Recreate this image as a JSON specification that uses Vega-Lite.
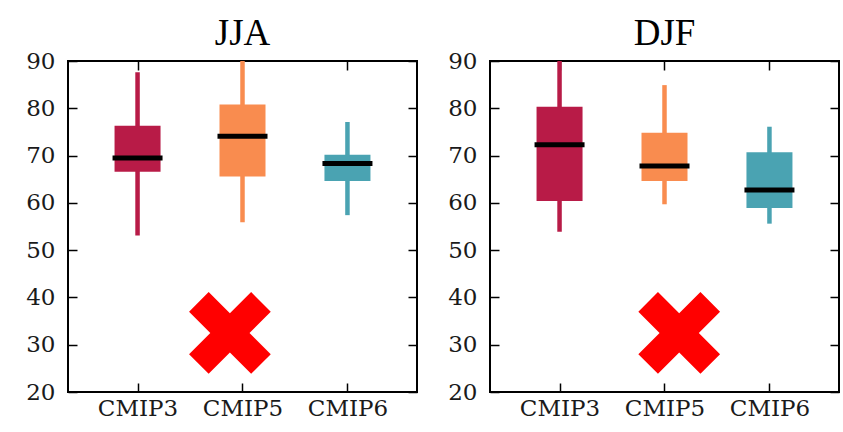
{
  "$schema": "https://vega.github.io/schema/vega-lite/v6.json",
  "background": "white",
  "padding": {"left": 24, "top": 14, "right": 5, "bottom": 5},
  "datasets": {
    "boxes": [
      {"season": "JJA", "model": "CMIP3", "x": 1, "low": 53.1, "q1": 66.6, "median": 69.5, "q3": 76.3, "high": 87.6},
      {"season": "JJA", "model": "CMIP5", "x": 2, "low": 55.9, "q1": 65.6, "median": 74.1, "q3": 80.8, "high": 91.5},
      {"season": "JJA", "model": "CMIP6", "x": 3, "low": 57.4, "q1": 64.6, "median": 68.3, "q3": 70.2, "high": 77.1},
      {"season": "DJF", "model": "CMIP3", "x": 1, "low": 53.9, "q1": 60.4, "median": 72.3, "q3": 80.3, "high": 91.5},
      {"season": "DJF", "model": "CMIP5", "x": 2, "low": 59.7, "q1": 64.6, "median": 67.8, "q3": 74.8, "high": 84.9},
      {"season": "DJF", "model": "CMIP6", "x": 3, "low": 55.6, "q1": 58.9, "median": 62.7, "q3": 70.7, "high": 76.1}
    ],
    "crosses": [
      {"season": "JJA", "x": 1.88, "value": 32.5},
      {"season": "DJF", "x": 2.14, "value": 32.5}
    ]
  },
  "hconcat": [
    {
      "width": 349,
      "height": 331,
      "title": {"text": "JJA"},
      "layer": [
        {
          "data": {"name": "boxes"},
          "transform": [{"filter": "datum.season === 'JJA'"}],
          "mark": {"type": "rule", "strokeWidth": 4.5, "clip": true},
          "encoding": {
            "x": {"field": "x", "type": "quantitative", "scale": {"domain": [0.385, 3.615], "nice": false, "zero": false},
                  "axis": {"orient": "bottom", "values": [1, 2, 3], "labelPadding": 14, "labelFlush": false,
                           "labelFont": "DejaVu Serif", "labelFontSize": 23,
                           "labelExpr": "datum.value == 1 ? 'CMIP3' : datum.value == 2 ? 'CMIP5' : 'CMIP6'"}},
            "y": {"field": "low", "type": "quantitative", "scale": {"domain": [20, 90], "nice": false, "zero": false},
                  "axis": {"orient": "left", "values": [20, 30, 40, 50, 60, 70, 80, 90], "labelPadding": 22,
                           "labelFont": "DejaVu Serif", "labelFontSize": 23}},
            "y2": {"field": "high"},
            "color": {"field": "model", "type": "nominal",
                      "scale": {"domain": ["CMIP3", "CMIP5", "CMIP6"], "range": ["#b81b47", "#f98c4f", "#4aa3b2"]},
                      "legend": null}
          }
        },
        {
          "data": {"name": "boxes"},
          "transform": [{"filter": "datum.season === 'JJA'"}],
          "mark": {"type": "bar", "size": 46, "opacity": 1},
          "encoding": {
            "x": {"field": "x", "type": "quantitative",
                  "axis": {"orient": "top", "values": [1, 2, 3], "labels": false}},
            "y": {"field": "q1", "type": "quantitative",
                  "axis": {"orient": "right", "values": [20, 30, 40, 50, 60, 70, 80, 90], "labels": false}},
            "y2": {"field": "q3"},
            "color": {"field": "model", "type": "nominal", "legend": null}
          }
        },
        {
          "data": {"name": "boxes"},
          "transform": [{"filter": "datum.season === 'JJA'"}],
          "mark": {"type": "tick", "orient": "horizontal", "size": 50, "thickness": 5, "color": "black", "opacity": 1},
          "encoding": {
            "x": {"field": "x", "type": "quantitative", "axis": null},
            "y": {"field": "median", "type": "quantitative", "axis": null}
          }
        },
        {
          "data": {"name": "crosses"},
          "transform": [{"filter": "datum.season === 'JJA'"}],
          "mark": {"type": "point", "shape": "M-1,-0.52L-0.52,-1L0,-0.48L0.52,-1L1,-0.52L0.48,0L1,0.52L0.52,1L0,0.48L-0.52,1L-1,0.52L-0.48,0Z",
                   "size": 6675, "filled": true, "color": "#ff0000", "opacity": 1, "strokeWidth": 0},
          "encoding": {
            "x": {"field": "x", "type": "quantitative", "axis": null},
            "y": {"field": "value", "type": "quantitative", "axis": null}
          }
        }
      ],
      "resolve": {"axis": {"x": "independent", "y": "independent"}}
    },
    {
      "width": 349,
      "height": 331,
      "title": {"text": "DJF"},
      "layer": [
        {
          "data": {"name": "boxes"},
          "transform": [{"filter": "datum.season === 'DJF'"}],
          "mark": {"type": "rule", "strokeWidth": 4.5, "clip": true},
          "encoding": {
            "x": {"field": "x", "type": "quantitative", "scale": {"domain": [0.385, 3.615], "nice": false, "zero": false},
                  "axis": {"orient": "bottom", "values": [1, 2, 3], "labelPadding": 14, "labelFlush": false,
                           "labelFont": "DejaVu Serif", "labelFontSize": 23,
                           "labelExpr": "datum.value == 1 ? 'CMIP3' : datum.value == 2 ? 'CMIP5' : 'CMIP6'"}},
            "y": {"field": "low", "type": "quantitative", "scale": {"domain": [20, 90], "nice": false, "zero": false},
                  "axis": {"orient": "left", "values": [20, 30, 40, 50, 60, 70, 80, 90], "labelPadding": 22,
                           "labelFont": "DejaVu Serif", "labelFontSize": 23}},
            "y2": {"field": "high"},
            "color": {"field": "model", "type": "nominal",
                      "scale": {"domain": ["CMIP3", "CMIP5", "CMIP6"], "range": ["#b81b47", "#f98c4f", "#4aa3b2"]},
                      "legend": null}
          }
        },
        {
          "data": {"name": "boxes"},
          "transform": [{"filter": "datum.season === 'DJF'"}],
          "mark": {"type": "bar", "size": 46, "opacity": 1},
          "encoding": {
            "x": {"field": "x", "type": "quantitative",
                  "axis": {"orient": "top", "values": [1, 2, 3], "labels": false}},
            "y": {"field": "q1", "type": "quantitative",
                  "axis": {"orient": "right", "values": [20, 30, 40, 50, 60, 70, 80, 90], "labels": false}},
            "y2": {"field": "q3"},
            "color": {"field": "model", "type": "nominal", "legend": null}
          }
        },
        {
          "data": {"name": "boxes"},
          "transform": [{"filter": "datum.season === 'DJF'"}],
          "mark": {"type": "tick", "orient": "horizontal", "size": 50, "thickness": 5, "color": "black", "opacity": 1},
          "encoding": {
            "x": {"field": "x", "type": "quantitative", "axis": null},
            "y": {"field": "median", "type": "quantitative", "axis": null}
          }
        },
        {
          "data": {"name": "crosses"},
          "transform": [{"filter": "datum.season === 'DJF'"}],
          "mark": {"type": "point", "shape": "M-1,-0.52L-0.52,-1L0,-0.48L0.52,-1L1,-0.52L0.48,0L1,0.52L0.52,1L0,0.48L-0.52,1L-1,0.52L-0.48,0Z",
                   "size": 6675, "filled": true, "color": "#ff0000", "opacity": 1, "strokeWidth": 0},
          "encoding": {
            "x": {"field": "x", "type": "quantitative", "axis": null},
            "y": {"field": "value", "type": "quantitative", "axis": null}
          }
        }
      ],
      "resolve": {"axis": {"x": "independent", "y": "independent"}}
    }
  ],
  "spacing": 27,
  "config": {
    "view": {"stroke": "black", "strokeWidth": 2},
    "axis": {
      "domain": false,
      "grid": false,
      "title": null,
      "tickSize": -9,
      "tickColor": "black",
      "tickWidth": 1.5,
      "labelFont": "DejaVu Serif",
      "labelFontSize": 23,
      "labelColor": "#1a1a1a",
      "labelOverlap": false
    },
    "title": {
      "font": "Liberation Serif",
      "fontSize": 37,
      "fontWeight": "normal",
      "color": "black",
      "baseline": "alphabetic",
      "offset": -3,
      "anchor": "middle"
    }
  }
}
